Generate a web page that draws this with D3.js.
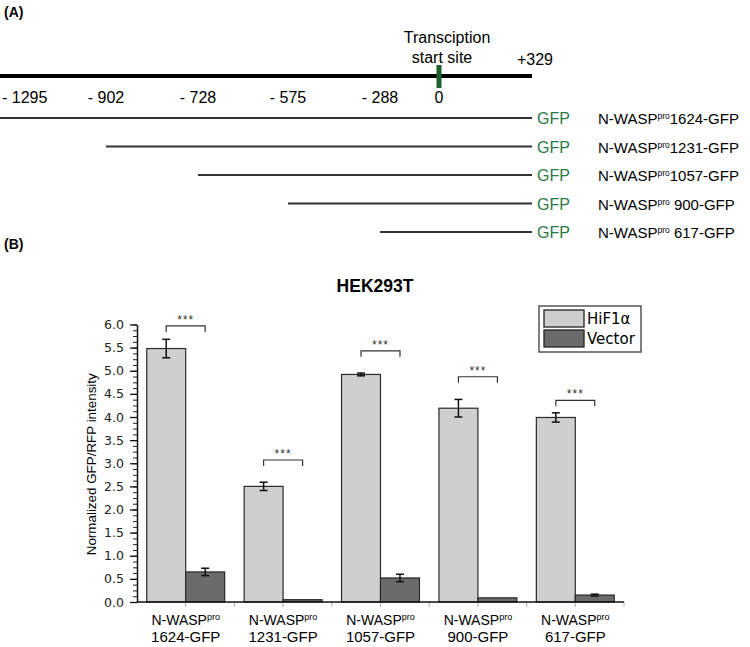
<!DOCTYPE html>
<html>
<head>
<meta charset="utf-8">
<script src="https://cdn.jsdelivr.net/npm/d3@7"></script>
<style>
  body { margin: 0; background: #fff; }
  svg { display: block; }
  text { font-family: "Liberation Sans", Arial, sans-serif; }
</style>
</head>
<body>
<svg width="750" height="647"></svg>
<script>
// panel A: promoter map
const mapPositions = [-1295, -902, -728, -575, -288, 0, 329];
const mapTickLabels = ["- 1295", "- 902", "- 728", "- 575", "- 288", "0"];
const constructStarts = [-1295, -902, -728, -575, -288];
const constructNames = ["1624-GFP", "1231-GFP", "1057-GFP", " 900-GFP", " 617-GFP"];

// panel B: bar chart
const categories = ["1624-GFP", "1231-GFP", "1057-GFP", "900-GFP", "617-GFP"];
const seriesNames = ["HiF1α", "Vector"];
const hifValues = [5.48, 2.5, 4.92, 4.19, 3.99];
const hifErrors = [0.2, 0.09, 0.03, 0.19, 0.1];
const vectorValues = [0.65, 0.05, 0.52, 0.09, 0.15];
const vectorErrors = [0.08, 0, 0.08, 0, 0.02];
const bracketHeights = [5.97, 3.07, 5.43, 4.87, 4.36];
const yTicks = [0, 0.5, 1, 1.5, 2, 2.5, 3, 3.5, 4, 4.5, 5, 5.5, 6];

const svg = d3.select("svg");
const green = "#2a7a45";

// ---------- (A) ----------
const gA = svg.append("g");
gA.append("text").attr("x", 4).attr("y", 17)
  .style("font-weight", "bold").style("font-size", "14px").text("(A)");

// schematic, not to scale -> piecewise scale
const xMap = d3.scaleLinear()
  .domain(mapPositions)
  .range([0, 106, 198, 288, 380, 439, 532]);

gA.append("line")
  .attr("x1", xMap(-1295) - 2).attr("x2", xMap(329))
  .attr("y1", 76).attr("y2", 76)
  .attr("stroke", "#000").attr("stroke-width", 4);

gA.append("rect")
  .attr("x", xMap(0) - 2.5).attr("y", 65)
  .attr("width", 5).attr("height", 23)
  .attr("fill", "#1e5f2e");

gA.append("text").attr("x", 447).attr("y", 43).attr("text-anchor", "middle")
  .style("font-size", "16px").text("Transciption");
gA.append("text").attr("x", 442).attr("y", 63).attr("text-anchor", "middle")
  .style("font-size", "16px").text("start site");
gA.append("text").attr("x", xMap(329) + 3).attr("y", 65).attr("text-anchor", "middle")
  .style("font-size", "16px").text("+329");

gA.selectAll(".maplabel")
  .data(mapTickLabels)
  .join("text")
  .attr("class", "maplabel")
  .attr("x", (d, i) => i === 0 ? 2 : xMap(mapPositions[i]))
  .attr("y", 103)
  .attr("text-anchor", (d, i) => i === 0 ? "start" : "middle")
  .style("font-size", "16px")
  .text(d => d);

const rowY = d3.scalePoint().domain(constructNames).range([118, 232]);

const rows = gA.selectAll(".construct")
  .data(constructNames)
  .join("g")
  .attr("class", "construct")
  .attr("transform", d => `translate(0,${rowY(d)})`);

rows.append("line")
  .attr("x1", (d, i) => xMap(constructStarts[i]))
  .attr("x2", xMap(329))
  .attr("stroke", "#333").attr("stroke-width", 2);

rows.append("text")
  .attr("x", 537).attr("y", 6)
  .attr("fill", green).style("font-size", "16px")
  .text("GFP");

const cl = rows.append("text")
  .attr("x", 598).attr("y", 6)
  .style("font-size", "15px");
cl.append("tspan").text("N-WASP");
cl.append("tspan").attr("dy", -5).style("font-size", "8.5px").text("pro");
cl.append("tspan").attr("dy", 5).text(d => d);

// ---------- (B) ----------
const gB = svg.append("g");
gB.append("text").attr("x", 4).attr("y", 249)
  .style("font-weight", "bold").style("font-size", "14px").text("(B)");
gB.append("text").attr("x", 375).attr("y", 292).attr("text-anchor", "middle")
  .style("font-weight", "bold").style("font-size", "17.5px").text("HEK293T");

const plot = { left: 137, right: 624, top: 324.5, bottom: 602 };

const y = d3.scaleLinear().domain([0, 6]).range([plot.bottom, plot.top]);
const x0 = d3.scaleBand().domain(categories).range([plot.left, plot.right]);
const x1 = d3.scaleBand().domain(seriesNames).range([0, x0.bandwidth()])
  .paddingOuter(0.25);
const fills = { "HiF1α": "#cfcfcf", "Vector": "#6b6b6b" };

const table = categories.map((c, i) => ({
  cat: c,
  bars: [
    { s: "HiF1α", v: hifValues[i], e: hifErrors[i] },
    { s: "Vector", v: vectorValues[i], e: vectorErrors[i] }
  ],
  bracket: bracketHeights[i]
}));

// y axis with minor ticks
const yMinor = d3.range(0, 6.0001, 0.125);
gB.append("g")
  .attr("transform", `translate(${plot.left},0)`)
  .call(d3.axisLeft(y).tickValues(yMinor).tickSize(4).tickFormat(""))
  .call(g => g.select(".domain").remove())
  .call(g => g.selectAll("line").attr("stroke", "#222"));

const yAxis = gB.append("g")
  .attr("transform", `translate(${plot.left},0)`)
  .call(d3.axisLeft(y).tickValues(yTicks).tickSize(7).tickSizeOuter(0)
    .tickFormat(d3.format(".1f")));
yAxis.select(".domain").attr("stroke", "#111").attr("stroke-width", 1.5);
yAxis.selectAll(".tick line").attr("stroke", "#111").attr("stroke-width", 1.3);
yAxis.selectAll(".tick text")
  .attr("x", -13)
  .style("font-family", "'DejaVu Sans', sans-serif")
  .style("font-size", "12.5px").attr("fill", "#222");

gB.append("text")
  .attr("transform", `translate(96,${(plot.top + plot.bottom) / 2 + 1}) rotate(-90)`)
  .attr("text-anchor", "middle")
  .style("font-size", "12px")
  .attr("textLength", 182).attr("lengthAdjust", "spacingAndGlyphs")
  .text("Normalized GFP/RFP intensity");

// bars
const groups = gB.selectAll(".cat")
  .data(table)
  .join("g")
  .attr("class", "cat")
  .attr("transform", d => `translate(${x0(d.cat)},0)`);

groups.selectAll("rect")
  .data(d => d.bars)
  .join("rect")
  .attr("x", d => x1(d.s))
  .attr("y", d => y(d.v))
  .attr("width", x1.bandwidth())
  .attr("height", d => y(0) - y(d.v))
  .attr("fill", d => fills[d.s])
  .attr("stroke", "#2a2a2a").attr("stroke-width", 1.2);

// error bars
const err = groups.selectAll(".err")
  .data(d => d.bars.filter(b => b.e > 0))
  .join("g")
  .attr("class", "err")
  .attr("stroke", "#111").attr("stroke-width", 1.5);
err.append("line")
  .attr("x1", d => x1(d.s) + x1.bandwidth() / 2)
  .attr("x2", d => x1(d.s) + x1.bandwidth() / 2)
  .attr("y1", d => y(d.v + d.e)).attr("y2", d => y(d.v - d.e));
err.append("line")
  .attr("x1", d => x1(d.s) + x1.bandwidth() / 2 - 4)
  .attr("x2", d => x1(d.s) + x1.bandwidth() / 2 + 4)
  .attr("y1", d => y(d.v + d.e)).attr("y2", d => y(d.v + d.e));
err.append("line")
  .attr("x1", d => x1(d.s) + x1.bandwidth() / 2 - 4)
  .attr("x2", d => x1(d.s) + x1.bandwidth() / 2 + 4)
  .attr("y1", d => y(d.v - d.e)).attr("y2", d => y(d.v - d.e));

// significance brackets
const bx1 = x1("HiF1α") + x1.bandwidth() / 2;
const bx2 = x1("Vector") + x1.bandwidth() / 2;
groups.append("path")
  .attr("d", d => `M${bx1},${y(d.bracket) + 6}V${y(d.bracket)}H${bx2}V${y(d.bracket) + 6}`)
  .attr("fill", "none").attr("stroke", "#333").attr("stroke-width", 1.2);
groups.append("text")
  .attr("x", (bx1 + bx2) / 2)
  .attr("y", d => y(d.bracket) - 2)
  .attr("text-anchor", "middle")
  .style("font-size", "12px").style("letter-spacing", "1px")
  .attr("fill", "#333")
  .text("***");

// x axis
const xTickPos = [];
categories.forEach(c => {
  xTickPos.push(x0(c) + x0.bandwidth());
  xTickPos.push(x0(c) + x0.bandwidth() / 2);
});
gB.selectAll(".xtick")
  .data(xTickPos)
  .join("line")
  .attr("class", "xtick")
  .attr("x1", d => d).attr("x2", d => d)
  .attr("y1", plot.bottom).attr("y2", plot.bottom + 5)
  .attr("stroke", "#aaa").attr("stroke-width", 1);
gB.append("line")
  .attr("x1", plot.left).attr("x2", plot.right)
  .attr("y1", plot.bottom).attr("y2", plot.bottom)
  .attr("stroke", "#111").attr("stroke-width", 1.5);

const xl = gB.selectAll(".xlab")
  .data(categories)
  .join("g")
  .attr("class", "xlab")
  .attr("transform", d => `translate(${x0(d) + x0.bandwidth() / 2},0)`);
const xl1 = xl.append("text").attr("y", 625).attr("text-anchor", "middle")
  .style("font-size", "14px");
xl1.append("tspan").text("N-WASP");
xl1.append("tspan").attr("dy", -5).style("font-size", "9px").text("pro");
xl.append("text").attr("y", 642).attr("text-anchor", "middle")
  .style("font-size", "15px").text(d => d);

// legend
const leg = gB.append("g").attr("transform", "translate(539,306)");
leg.append("rect").attr("width", 102).attr("height", 46)
  .attr("fill", "#fff").attr("stroke", "#555").attr("stroke-width", 1.5);
const li = leg.selectAll(".li")
  .data(seriesNames)
  .join("g")
  .attr("class", "li")
  .attr("transform", (d, i) => `translate(5,${4 + i * 20})`);
li.append("rect").attr("width", 40).attr("height", 17)
  .attr("fill", d => fills[d]).attr("stroke", "#222").attr("stroke-width", 1.3);
li.append("text").attr("x", 43).attr("y", 14)
  .style("font-family", "'DejaVu Sans', sans-serif")
  .style("font-size", "15px").text(d => d);
</script>
</body>
</html>
